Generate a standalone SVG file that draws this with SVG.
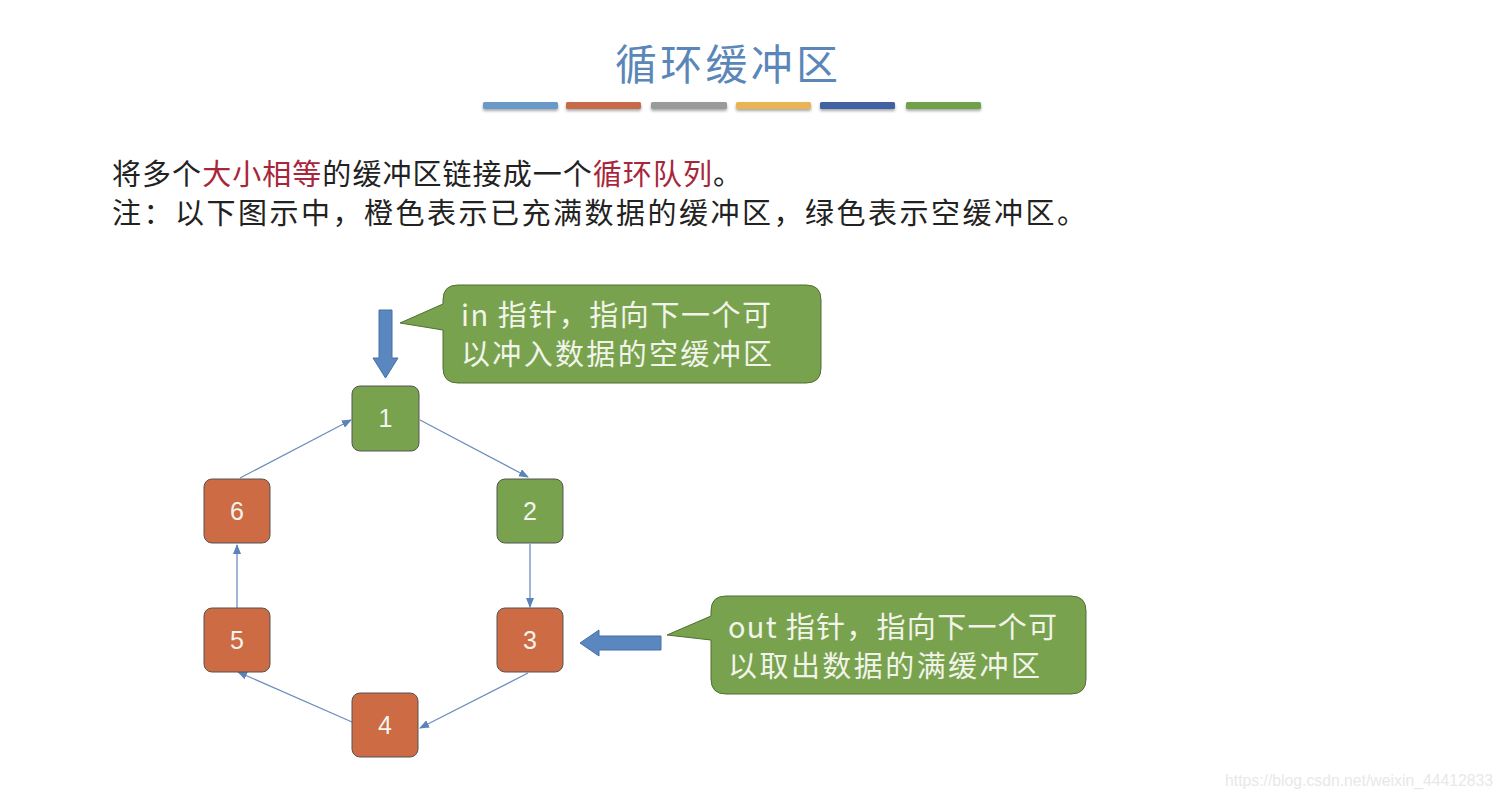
<svg xmlns="http://www.w3.org/2000/svg" width="1504" height="798" viewBox="0 0 1504 798">
<defs>
<marker id="ah" markerWidth="10" markerHeight="8" refX="9" refY="4" orient="auto" markerUnits="userSpaceOnUse">
<path d="M0,0 L10,4 L0,8 Z" fill="#5b83b8"/>
</marker>
<filter id="sh" x="-10%" y="-50%" width="120%" height="300%">
<feGaussianBlur in="SourceAlpha" stdDeviation="1.5"/>
<feOffset dy="2"/>
<feComponentTransfer><feFuncA type="linear" slope="0.35"/></feComponentTransfer>
<feMerge><feMergeNode/><feMergeNode in="SourceGraphic"/></feMerge>
</filter>
</defs>
<style>
.cjk{font-family:"Noto Sans CJK SC","Liberation Sans",sans-serif;}
.node rect{stroke:#555;stroke-width:1;}
.g rect{fill:#78a24e;}
.o rect{fill:#cc6b44;}
.node text{font-family:"Liberation Sans","Noto Sans",sans-serif;font-size:25px;fill:#f4f4ee;text-anchor:middle;}
.edge{stroke:#6d8fbd;stroke-width:1.3;fill:none;marker-end:url(#ah);}
.callout{fill:#78a24e;stroke:#4f6f33;stroke-width:1;}
.ctext{font-family:"Noto Sans CJK SC","Liberation Sans",sans-serif;font-size:29px;fill:#f2f4ea;}
.bigarrow{fill:#5b87c0;stroke:#47709f;stroke-width:1;}
.body{font-family:"Noto Sans CJK SC",sans-serif;font-size:29px;fill:#222;}
.red{fill:#a8263a;}
</style>
<rect width="1504" height="798" fill="#ffffff"/>
<g id="title">
<text x="615" y="80" class="cjk" font-size="42" fill="#5b87b8" textLength="223" lengthAdjust="spacing">循环缓冲区</text>
<g filter="url(#sh)">
<rect x="483" y="102" width="75" height="7" rx="1.5" fill="#6a98c8"/>
<rect x="566" y="102" width="75" height="7" rx="1.5" fill="#c66a48"/>
<rect x="651" y="102" width="76" height="7" rx="1.5" fill="#9a9a9a"/>
<rect x="736" y="102" width="75" height="7" rx="1.5" fill="#e9b452"/>
<rect x="820" y="102" width="75" height="7" rx="1.5" fill="#3f62a3"/>
<rect x="906" y="102" width="75" height="7" rx="1.5" fill="#70a14a"/>
</g>
</g>
<g id="description">
<text x="112" y="185" class="body" textLength="630" lengthAdjust="spacing">将多个<tspan class="red">大小相等</tspan>的缓冲区链接成一个<tspan class="red">循环队列</tspan>。</text>
<text x="112" y="224" class="body" textLength="974" lengthAdjust="spacing">注：以下图示中，橙色表示已充满数据的缓冲区，绿色表示空缓冲区。</text>
</g>
<g id="connectors">
<line class="edge" x1="420" y1="420" x2="528" y2="477"/>
<line class="edge" x1="530" y1="544" x2="530" y2="607"/>
<line class="edge" x1="528" y1="673" x2="420" y2="728"/>
<line class="edge" x1="352" y1="722" x2="238" y2="672"/>
<line class="edge" x1="237" y1="608" x2="237" y2="545"/>
<line class="edge" x1="240" y1="478" x2="351" y2="420"/>
</g>
<g id="node1" class="node g"><rect x="352" y="386" width="67" height="65" rx="8"/><text x="385.5" y="427">1</text></g>
<g id="node2" class="node g"><rect x="497" y="479" width="66" height="64" rx="8"/><text x="530" y="520">2</text></g>
<g id="node3" class="node o"><rect x="497" y="608" width="66" height="64" rx="8"/><text x="530" y="649">3</text></g>
<g id="node4" class="node o"><rect x="352" y="693" width="66" height="64" rx="8"/><text x="385" y="734">4</text></g>
<g id="node5" class="node o"><rect x="204" y="608" width="66" height="64" rx="8"/><text x="237" y="649">5</text></g>
<g id="node6" class="node o"><rect x="204" y="479" width="66" height="64" rx="8"/><text x="237" y="520">6</text></g>
<g id="in-pointer">
<path class="bigarrow" d="M379,310 L392,310 L392,358 L398,358 L385.5,378 L373,358 L379,358 Z"/>
</g>
<g id="in-callout">
<path class="callout" d="M458,285 L806,285 Q821,285 821,300 L821,368 Q821,383 806,383 L458,383 Q443,383 443,368 L443,330 L400,323 L443,304 L443,300 Q443,285 458,285 Z"/>
<text x="461" y="326" class="ctext" textLength="310" lengthAdjust="spacing">in 指针，指向下一个可</text>
<text x="461" y="365" class="ctext" textLength="311" lengthAdjust="spacing">以冲入数据的空缓冲区</text>
</g>
<g id="out-pointer">
<path class="bigarrow" d="M661,636 L661,650 L599,650 L599,656 L580,643 L599,630 L599,636 Z"/>
</g>
<g id="out-callout">
<path class="callout" d="M726,596 L1071,596 Q1086,596 1086,611 L1086,679 Q1086,694 1071,694 L726,694 Q711,694 711,679 L711,640 L667,635 L711,616 L711,611 Q711,596 726,596 Z"/>
<text x="728" y="638" class="ctext" textLength="329" lengthAdjust="spacing">out 指针，指向下一个可</text>
<text x="728" y="677" class="ctext" textLength="312" lengthAdjust="spacing">以取出数据的满缓冲区</text>
</g>
<text x="1225" y="786" font-family="Liberation Sans,sans-serif" font-size="16" fill="#e8e8e8" textLength="268" lengthAdjust="spacingAndGlyphs">https://blog.csdn.net/weixin_44412833</text>
</svg>
